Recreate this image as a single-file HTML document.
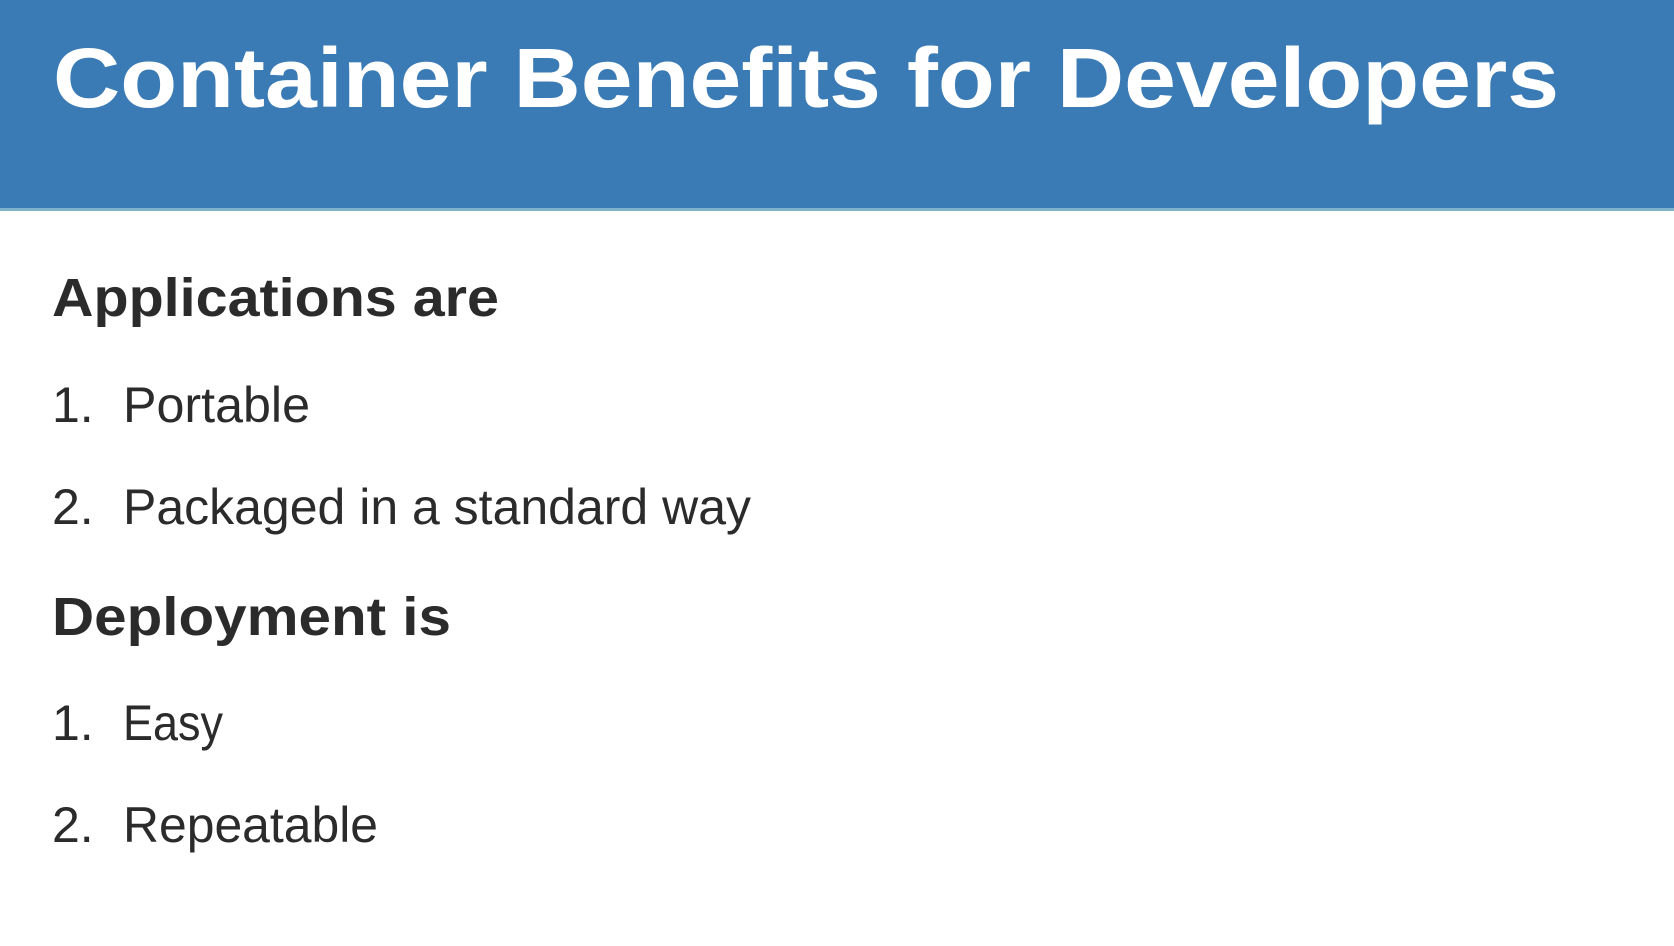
<!DOCTYPE html>
<html><head><meta charset="utf-8"><style>
html,body{margin:0;padding:0;background:#fff;width:1674px;height:946px;overflow:hidden}
text{font-family:"Liberation Sans",sans-serif}
</style></head><body>
<svg width="1674" height="946" viewBox="0 0 1674 946">
<rect x="0" y="0" width="1674" height="209" fill="#3b7bb5"/>
<rect x="0" y="208" width="1674" height="3" fill="#7fb3c9"/>
<text x="53" y="107" font-size="84" font-weight="bold" fill="#fff" textLength="1506" lengthAdjust="spacingAndGlyphs">Container Benefits for Developers</text>
<g fill="#2b2b2b">
<text x="52" y="316" font-size="54" font-weight="bold" textLength="447" lengthAdjust="spacingAndGlyphs">Applications are</text>
<text x="52" y="422" font-size="50">1.</text>
<text x="123" y="422" font-size="50" textLength="187" lengthAdjust="spacingAndGlyphs">Portable</text>
<text x="52" y="524" font-size="50">2.</text>
<text x="123" y="524" font-size="50" textLength="628" lengthAdjust="spacingAndGlyphs">Packaged in a standard way</text>
<text x="52" y="635" font-size="54" font-weight="bold" textLength="399" lengthAdjust="spacingAndGlyphs">Deployment is</text>
<text x="52" y="740" font-size="50">1.</text>
<text x="123" y="740" font-size="50" textLength="100" lengthAdjust="spacingAndGlyphs">Easy</text>
<text x="52" y="842" font-size="50">2.</text>
<text x="123" y="842" font-size="50" textLength="255" lengthAdjust="spacingAndGlyphs">Repeatable</text>
</g>
</svg>
</body></html>
